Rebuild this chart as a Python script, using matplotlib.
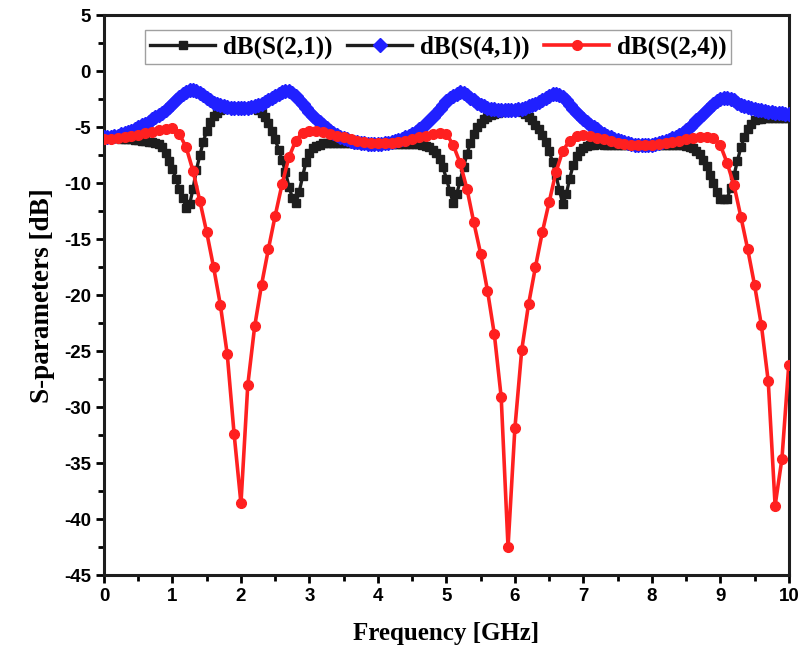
# S-parameter plot: dB(S(2,1)), dB(S(4,1)), dB(S(2,4)) versus frequency

import numpy as np
import matplotlib
matplotlib.use('Agg')
import matplotlib.pyplot as plt
from matplotlib.ticker import MultipleLocator

plt.rcParams['axes.unicode_minus'] = False

# Frequency grids [GHz]
freq_fine = np.linspace(0, 10, 201)     # S(2,1) and S(4,1) sampled every 0.05 GHz
freq_coarse = np.linspace(0, 10, 101)   # S(2,4) sampled every 0.1 GHz

# dB(S(2,1))
s21 = [-6.0, -6.0, -6.0, -6.0, -6.0, -6.05, -6.05, -6.1, -6.1, -6.15,
       -6.15, -6.2, -6.25, -6.3, -6.35, -6.4, -6.5, -6.8, -7.3, -8.0,
       -8.7, -9.6, -10.5, -11.3, -12.2, -11.9, -10.5, -8.8, -7.5, -6.3,
       -5.3, -4.5, -4.0, -3.7, -3.5, -3.4, -3.3, -3.25, -3.2, -3.2,
       -3.2, -3.2, -3.2, -3.25, -3.3, -3.45, -3.7, -4.1, -4.6, -5.3,
       -6.1, -7.0, -7.9, -9.0, -10.3, -11.3, -11.8, -10.8, -9.4, -8.1,
       -7.3, -6.9, -6.7, -6.55, -6.45, -6.45, -6.45, -6.45, -6.45, -6.45,
       -6.45, -6.45, -6.45, -6.45, -6.5, -6.5, -6.5, -6.5, -6.5, -6.5,
       -6.5, -6.5, -6.5, -6.5, -6.5, -6.5, -6.5, -6.5, -6.5, -6.5,
       -6.5, -6.5, -6.5, -6.55, -6.65, -6.8, -7.0, -7.3, -7.8, -8.6,
       -9.6, -10.7, -11.8, -11.0, -9.8, -8.6, -7.4, -6.4, -5.6, -5.0,
       -4.6, -4.3, -4.1, -3.9, -3.8, -3.7, -3.6, -3.55, -3.5, -3.5,
       -3.5, -3.55, -3.6, -3.8, -4.1, -4.4, -4.8, -5.2, -5.7, -6.3,
       -7.1, -8.1, -9.3, -10.6, -11.9, -11.0, -9.6, -8.4, -7.6, -7.1,
       -6.85, -6.7, -6.6, -6.55, -6.5, -6.5, -6.55, -6.55, -6.6, -6.6,
       -6.6, -6.6, -6.6, -6.6, -6.6, -6.6, -6.6, -6.6, -6.6, -6.6,
       -6.6, -6.6, -6.6, -6.6, -6.6, -6.6, -6.6, -6.6, -6.6, -6.6,
       -6.65, -6.75, -6.9, -7.1, -7.4, -7.9, -8.5, -9.3, -10.0, -10.8,
       -11.4, -11.4, -11.4, -10.4, -9.3, -8.0, -6.8, -5.9, -5.2, -4.7,
       -4.4, -4.3, -4.25, -4.2, -4.2, -4.2, -4.2, -4.2, -4.2, -4.2,
       -4.2]

# dB(S(4,1))
s41 = [-5.9, -5.88, -5.85, -5.8, -5.75, -5.65, -5.55, -5.45, -5.3, -5.15,
       -5.0, -4.85, -4.7, -4.5, -4.3, -4.1, -3.9, -3.7, -3.45, -3.2,
       -2.9, -2.6, -2.3, -2.05, -1.85, -1.7, -1.65, -1.75, -1.95, -2.15,
       -2.4, -2.6, -2.8, -2.95, -3.05, -3.15, -3.2, -3.25, -3.3, -3.3,
       -3.3, -3.3, -3.25, -3.2, -3.1, -3.0, -2.9, -2.75, -2.6, -2.4,
       -2.2, -2.0, -1.85, -1.75, -1.75, -1.95, -2.25, -2.6, -2.95, -3.3,
       -3.65, -4.0, -4.3, -4.55, -4.8, -5.05, -5.3, -5.5, -5.7, -5.85,
       -6.0, -6.1, -6.2, -6.3, -6.35, -6.4, -6.45, -6.5, -6.5, -6.5,
       -6.5, -6.5, -6.45, -6.4, -6.35, -6.25, -6.15, -6.05, -5.9, -5.75,
       -5.6, -5.4, -5.2, -4.95, -4.7, -4.4, -4.1, -3.75, -3.4, -3.05,
       -2.7, -2.4, -2.2, -2.0, -1.9, -1.95, -2.1, -2.35, -2.6, -2.8,
       -3.0, -3.15, -3.25, -3.35, -3.4, -3.45, -3.5, -3.5, -3.5, -3.5,
       -3.45, -3.4, -3.35, -3.25, -3.15, -3.05, -2.9, -2.75, -2.55, -2.35,
       -2.2, -2.05, -2.0, -2.1, -2.3, -2.6, -3.0, -3.35, -3.7, -4.0,
       -4.3, -4.55, -4.8, -5.0, -5.2, -5.4, -5.6, -5.75, -5.9, -6.05,
       -6.15, -6.25, -6.35, -6.45, -6.5, -6.55, -6.6, -6.6, -6.6, -6.6,
       -6.55, -6.5, -6.45, -6.35, -6.25, -6.15, -6.0, -5.85, -5.7, -5.5,
       -5.25, -5.0, -4.7, -4.4, -4.1, -3.8, -3.5, -3.2, -2.9, -2.7,
       -2.5, -2.4, -2.35, -2.45, -2.6, -2.8, -3.0, -3.1, -3.2, -3.3,
       -3.4, -3.45, -3.5, -3.55, -3.6, -3.65, -3.7, -3.7, -3.75, -3.8,
       -3.8]

# dB(S(2,4))
s24 = [-6.1, -6.05, -6.0, -5.9, -5.8, -5.7, -5.55, -5.4, -5.25, -5.15,
       -5.1, -5.6, -6.8, -8.9, -11.6, -14.4, -17.5, -20.9, -25.3, -32.4,
       -38.6, -28.0, -22.8, -19.1, -15.9, -12.9, -10.1, -7.7, -6.2, -5.5,
       -5.3, -5.35, -5.45, -5.6, -5.75, -5.9, -6.05, -6.2, -6.3, -6.4,
       -6.45, -6.45, -6.4, -6.3, -6.2, -6.05, -5.9, -5.75, -5.6, -5.5,
       -5.6, -6.6, -8.2, -10.5, -13.5, -16.3, -19.6, -23.5, -29.1, -42.5,
       -31.9, -24.9, -20.8, -17.5, -14.4, -11.7, -9.0, -7.1, -6.2, -5.75,
       -5.7, -5.8, -5.95, -6.1, -6.25, -6.4, -6.5, -6.55, -6.6, -6.6,
       -6.55, -6.5, -6.4, -6.3, -6.2, -6.1, -6.0, -5.9, -5.85, -6.0,
       -6.6, -8.2, -10.2, -13.0, -15.9, -19.1, -22.7, -27.7, -38.8, -34.6,
       -26.2]

labels = ['dB(S(2,1))', 'dB(S(4,1))', 'dB(S(2,4))']

fig = plt.figure(figsize=(8, 6.61), dpi=100)
ax = fig.add_axes([0.13, 0.13, 0.856, 0.847])

ax.plot(freq_fine, s21, color='#1e1e1e', lw=2.4, marker='s', ms=5.5,
        mfc='#1e1e1e', mec='#1e1e1e', label=labels[0], zorder=2)
ax.plot(freq_fine, s41, color='#1e1e1e', lw=2.4, marker='D', ms=7,
        mfc='#2020ff', mec='#2020ff', label=labels[1], zorder=3)
ax.plot(freq_coarse, s24, color='#ff2020', lw=2.6, marker='o', ms=7,
        mfc='#ff2020', mec='#ff2020', label=labels[2], zorder=4)

# Axes limits / ticks
ax.set_xlim(0, 10)
ax.set_ylim(-45, 5)
ax.xaxis.set_major_locator(MultipleLocator(1))
ax.xaxis.set_minor_locator(MultipleLocator(0.5))
ax.yaxis.set_major_locator(MultipleLocator(5))
ax.yaxis.set_minor_locator(MultipleLocator(2.5))
ax.tick_params(which='major', direction='out', length=6, width=2, top=False, right=False)
ax.tick_params(which='minor', direction='out', length=4, width=2, top=False, right=False)
for lab in ax.get_xticklabels() + ax.get_yticklabels():
    lab.set_fontfamily('Liberation Sans')
    lab.set_fontweight('bold')
    lab.set_fontsize(13.5)
for sp in ax.spines.values():
    sp.set_linewidth(2.2)
    sp.set_color('#1e1e1e')

ax.set_xlabel('Frequency [GHz]', fontfamily='Liberation Serif', fontweight='bold',
              fontsize=18, labelpad=12)
ax.set_ylabel('S-parameters [dB]', fontfamily='Liberation Serif', fontweight='bold',
              fontsize=19.5, labelpad=6)

leg = ax.legend(loc='upper center', bbox_to_anchor=(0.488, 0.973), ncol=3,
                frameon=True, fancybox=False, edgecolor='#888888', numpoints=1,
                handlelength=2.6, handletextpad=0.3, columnspacing=0.6,
                borderpad=0.2, borderaxespad=0,
                prop={'family': 'Liberation Serif', 'weight': 'bold', 'size': 18})
leg.get_frame().set_linewidth(1)

plt.savefig('out.png', dpi=100)
